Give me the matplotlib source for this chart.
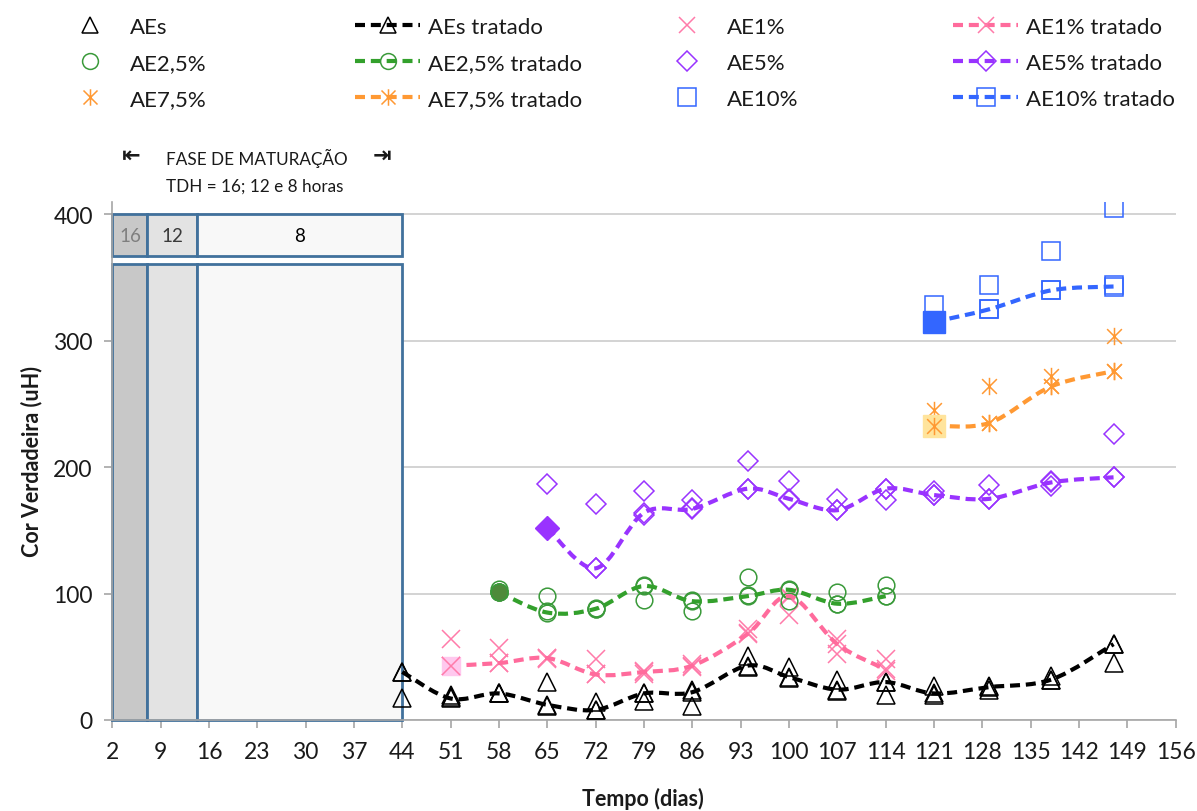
import numpy as np
import matplotlib
matplotlib.use("Agg")
import matplotlib.pyplot as plt
from matplotlib.lines import Line2D
from matplotlib.patches import Rectangle, PathPatch
from matplotlib.path import Path

plt.rcParams['font.family'] = ['Lato', 'DejaVu Sans']

# ---- data -------------------------------------------------------------
days = [44, 51, 58, 65, 72, 79, 86, 94, 100, 107, 114, 121, 129, 138, 147]
aes_a = [38, 20, 21, 30, 14, 21, 24, 51, 42, 32, 30, 27, 27, 35, 60]
aes_b = [17, 18, 21, 11, 8, 15, 11, 42, 33, 23, 20, 20, 24, 32, 45]
aes_trat = [38, 17, 21, 12, 8, 21, 22, 43, 34, 24, 30, 21, 26, 32, 60]

days_1 = [51, 58, 65, 72, 79, 86, 94, 100, 107, 114]
ae1_a = [64, 57, 49, 48, 39, 44, 72, 97, 64, 48]
ae1_b = [43, 45, 48, 36, 36, 42, 69, 83, 52, 39]
ae1_trat = [43, 45, 49, 36, 38, 43, 68, 98, 60, 40]

days_25 = [58, 65, 72, 79, 86, 94, 100, 107, 114]
ae25_a = [104, 98, 89, 107, 95, 113, 104, 101, 107]
ae25_b = [101, 86, 88, 95, 86, 99, 94, 92, 98]
ae25_trat = [101, 85, 88, 106, 94, 98, 103, 92, 98]

days_5 = [65, 72, 79, 86, 94, 100, 107, 114, 121, 129, 138, 147]
ae5_a = [187, 171, 181, 174, 205, 189, 175, 183, 181, 186, 189, 226]
ae5_b = [152, 120, 162, 168, 183, 174, 166, 174, 178, 175, 185, 192]
ae5_trat = [152, 120, 164, 167, 183, 175, 166, 183, 178, 175, 188, 192]

days_75 = [121, 129, 138, 147]
ae75_a = [245, 264, 272, 304]
ae75_b = [233, 235, 264, 276]
ae75_trat = [233, 235, 264, 276]

days_10 = [121, 129, 138, 147]
ae10_a = [328, 344, 371, 405]
ae10_b = [315, 325, 340, 344]
ae10_trat = [315, 325, 340, 343]

x_ticks = list(range(2, 157, 7))
y_ticks = [0, 100, 200, 300, 400]

# maturation phase blocks (start day, end day, label)
phase_bounds = [2, 7.1, 14.3, 44]
phase_labels = ['16', '12', '8']

# ---- styling ---------------------------------------------------------
# six-armed star marker (cross + vertical bar)
star = Path([(0, -1), (0, 1), (-0.85, -0.85), (0.85, 0.85), (-0.85, 0.85), (0.85, -0.85)],
            [Path.MOVETO, Path.LINETO, Path.MOVETO, Path.LINETO, Path.MOVETO, Path.LINETO])

series = [
    # name, days, rep a, rep b, treated, marker, marker color, line color, ms, first-point style
    ('AEs', days, aes_a, aes_b, aes_trat, '^', 'black', 'black', 12.5, None),
    ('AE1%', days_1, ae1_a, ae1_b, ae1_trat, 'x', '#FF7BAA', '#FF6B9C', 12.5,
     dict(marker='s', ms=13, mfc='#FFC8EE', mec='#FFC8EE')),
    ('AE2,5%', days_25, ae25_a, ae25_b, ae25_trat, 'o', '#3A9A3A', '#33A02C', 12,
     dict(marker='o', ms=12, mfc='#4E8A3A', mec='#4E8A3A')),
    ('AE5%', days_5, ae5_a, ae5_b, ae5_trat, 'D', '#9933FF', '#9933FF', 10.5,
     dict(marker='D', ms=12.5, mfc='#9933FF', mec='#9933FF')),
    ('AE7,5%', days_75, ae75_a, ae75_b, ae75_trat, star, '#FF9933', '#FF9933', 12.5,
     dict(marker='s', ms=16.5, mfc='#FFE49C', mec='#FFE49C')),
    ('AE10%', days_10, ae10_a, ae10_b, ae10_trat, 's', '#3366FF', '#3366FF', 13,
     dict(marker='s', ms=16.5, mfc='#3366FF', mec='#3366FF')),
]


def smooth_path(xs, ys, t=1 / 6):
    pts = np.column_stack([xs, ys]).astype(float)
    n = len(pts)
    verts = [pts[0]]
    codes = [Path.MOVETO]
    for i in range(n - 1):
        p0 = pts[i - 1] if i > 0 else pts[i]
        p1, p2 = pts[i], pts[i + 1]
        p3 = pts[i + 2] if i + 2 < n else pts[i + 1]
        verts += [p1 + (p2 - p0) * t, p2 - (p3 - p1) * t, p2]
        codes += [Path.CURVE4] * 3
    return Path(verts, codes)


# ---- figure ----------------------------------------------------------
fig = plt.figure(figsize=(11.97, 8.12), dpi=100)
ax = fig.add_axes([0.0938, 0.1121, 0.8884, 0.6381])
ax.set_xlim(2, 156)
ax.set_ylim(0, 410)
ax.set_xticks(x_ticks)
ax.set_yticks(y_ticks)
ax.tick_params(axis='both', labelsize=16.5, colors='#A6A6A6', labelcolor='#1A1A1A',
               length=6, width=1.2, direction='out')
ax.tick_params(axis='x', pad=9)
ax.tick_params(axis='y', pad=8)
for side in ('top', 'right'):
    ax.spines[side].set_visible(False)
for side in ('left', 'bottom'):
    ax.spines[side].set_color('#A6A6A6')
    ax.spines[side].set_linewidth(1.2)
ax.yaxis.grid(True, color='#D0D0D0', linewidth=1.3, zorder=0)
ax.set_axisbelow(True)

# maturation blocks
fills = ['#C8C8C8', '#E3E3E3', '#F8F8F8']
txt_colors = ['#7F7F7F', '#3A3A3A', '#000000']
edge = '#41719C'
for i in range(3):
    x0, x1 = phase_bounds[i], phase_bounds[i + 1]
    ax.add_patch(Rectangle((x0, 0), x1 - x0, 361, facecolor=fills[i], edgecolor=edge,
                           linewidth=2.0, zorder=2, clip_on=False))
    ax.add_patch(Rectangle((x0, 367), x1 - x0, 33, facecolor=fills[i], edgecolor=edge,
                           linewidth=2.0, zorder=2, clip_on=False))
    ax.text((x0 + x1) / 2, 383.5, phase_labels[i], ha='center', va='center',
            fontsize=13.5, color=txt_colors[i], zorder=3)

legend_raw = []
legend_trat = []
for name, d, ra, rb, tr, mk, mc, lc, ms, first in series:
    for vals in (ra, rb):
        ax.plot(d, vals, ls='none', marker=mk, ms=ms, mfc='none', mec=mc, mew=1.1, zorder=4)
    ax.plot(d, tr, ls='none', marker=mk, ms=ms, mfc='none', mec=mc, mew=1.1, zorder=4)
    ax.add_patch(PathPatch(smooth_path(d, tr), fill=False, edgecolor=lc, linewidth=3.0,
                           linestyle=(0, (2.4, 1.4)), zorder=5, capstyle='butt'))
    if first is not None:
        ax.plot(d[0], tr[0], ls='none', zorder=5, **first)
        ax.plot(d[0], tr[0], ls='none', marker=mk, ms=ms, mfc='none', mec=mc, mew=1.1, zorder=6)
    legend_raw.append(Line2D([], [], ls='none', marker=mk, ms=ms * 0.95, mfc='none', mec=mc, mew=1.1))
    legend_trat.append(Line2D([], [], ls=(0, (2.4, 1.4)), lw=3.0, color=lc, marker=mk,
                              ms=ms * 0.95, mfc='none', mec=mc, mew=1.1))

names = [s[0] for s in series]
columns = [
    ([legend_raw[0], legend_raw[2], legend_raw[4]], [names[0], names[2], names[4]]),
    ([legend_trat[0], legend_trat[2], legend_trat[4]], [names[0] + ' tratado', names[2] + ' tratado', names[4] + ' tratado']),
    ([legend_raw[1], legend_raw[3], legend_raw[5]], [names[1], names[3], names[5]]),
    ([legend_trat[1], legend_trat[3], legend_trat[5]], [names[1] + ' tratado', names[3] + ' tratado', names[5] + ' tratado']),
]
col_x = [57, 355, 654, 953]
for (h, l), cx in zip(columns, col_x):
    leg = fig.legend(h, l, loc='upper left', bbox_to_anchor=(cx / 1197, 1 - 18 / 812),
                     frameon=False, fontsize=16, handlelength=2.93, handletextpad=0.36,
                     borderpad=0, borderaxespad=0, labelspacing=0.72)
    for t in leg.get_texts():
        t.set_color('#1A1A1A')

# maturation phase caption
fig.text(131 / 1197, 1 - 156 / 812, '⇤', ha='center', va='center', fontsize=16,
         family='DejaVu Sans', fontweight='bold', color='#1A1A1A')
fig.text(382 / 1197, 1 - 156 / 812, '⇥', ha='center', va='center', fontsize=16,
         family='DejaVu Sans', fontweight='bold', color='#1A1A1A')
fig.text(166 / 1197, 1 - 158 / 812, 'FASE DE MATURAÇÃO', ha='left', va='center',
         fontsize=12.3, color='#1A1A1A')
fig.text(166 / 1197, 1 - 187 / 812, 'TDH = 16; 12 e 8 horas', ha='left', va='center',
         fontsize=12.3, color='#1A1A1A')

ax.set_ylabel('Cor Verdadeira (uH)', fontsize=15.5, fontweight='bold', color='#1A1A1A', labelpad=8)
fig.text(0.537, 1 - 799 / 812, 'Tempo (dias)', ha='center', va='center',
         fontsize=15.5, fontweight='bold', color='#1A1A1A')

fig.savefig('out.png', dpi=100)
